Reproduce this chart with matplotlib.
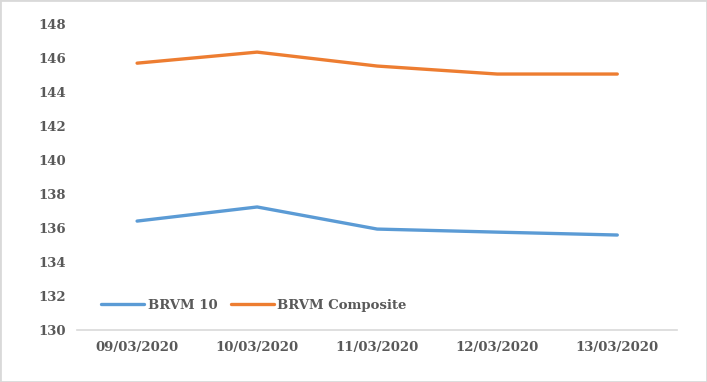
import matplotlib
matplotlib.use("Agg")
import matplotlib.pyplot as plt

dates = ["09/03/2020", "10/03/2020", "11/03/2020", "12/03/2020", "13/03/2020"]
brvm10 = [136.41, 137.24, 135.94, 135.76, 135.59]
brvm_composite = [145.70, 146.35, 145.53, 145.06, 145.06]
y_ticks = list(range(130, 149, 2))

plt.rcParams["font.family"] = ["DejaVu Serif"]
plt.rcParams["font.weight"] = "bold"

fig = plt.figure(figsize=(7.07, 3.82), dpi=100)
ax = fig.add_axes([0.109, 0.136, 0.849, 0.801])

x = range(len(dates))
ax.plot(x, brvm10, color="#5B9BD5", lw=2.4, solid_capstyle="round", label="BRVM 10")
ax.plot(x, brvm_composite, color="#ED7D31", lw=2.4, solid_capstyle="round",
        label="BRVM Composite")

ax.set_xlim(-0.5, len(dates) - 0.5)
ax.set_ylim(130, 148)
ax.set_xticks(list(x), dates)
ax.set_yticks(y_ticks)
ax.tick_params(length=0, colors="#595959", labelsize=9.5, pad=8)
ax.tick_params(axis="x", pad=8)
for side in ("top", "right", "left"):
    ax.spines[side].set_visible(False)
ax.spines["bottom"].set_color("#D9D9D9")
ax.spines["bottom"].set_linewidth(1.2)

leg = ax.legend(loc="lower left", bbox_to_anchor=(0.02, 0.02), ncol=2, frameon=False,
                fontsize=9.5, handlelength=3.3, handletextpad=0.25, columnspacing=1.0)
for t in leg.get_texts():
    t.set_color("#595959")

fig.patches.append(plt.Rectangle((0, 0), 1, 1, transform=fig.transFigure,
                                 fill=False, edgecolor="#D9D9D9", lw=2))
fig.savefig("out.png", dpi=100)
